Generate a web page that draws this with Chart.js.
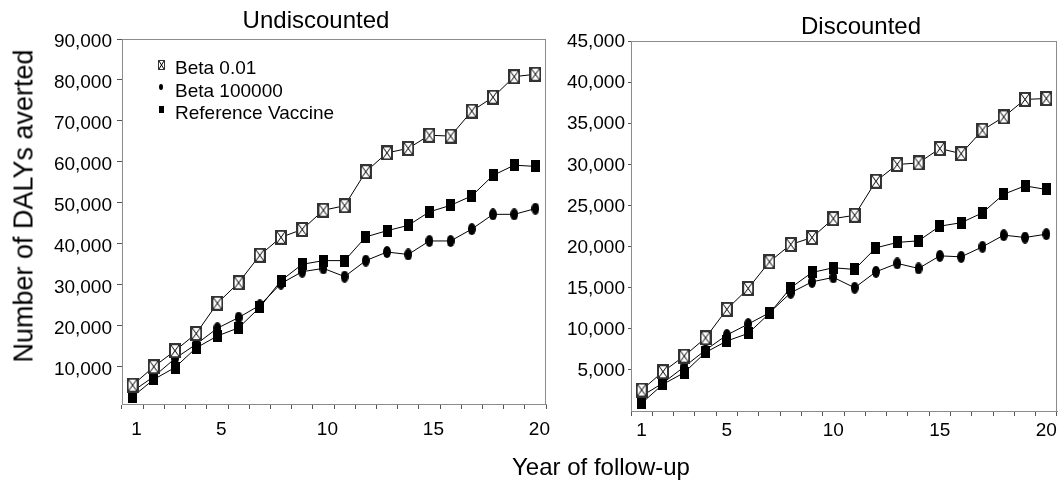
<!DOCTYPE html>
<html>
<head>
<meta charset="utf-8">
<title>DALYs averted</title>
<script src="https://cdn.jsdelivr.net/npm/chart.js@4.4.1/dist/chart.umd.min.js"></script>
<style>
  html, body { margin: 0; padding: 0; background: #fff; overflow: hidden; }
  body { position: relative; width: 1064px; height: 487px; font-family: "Liberation Sans", Arial, sans-serif; color: #000; }
  canvas { position: absolute; top: 0; }
  #undisc { left: 0; }
  #disc { left: 560px; }
  .txt { position: absolute; white-space: nowrap; line-height: 1; transform: translateX(-50%); }
  #title-left { left: 316px; top: 8px; font-size: 24px; }
  #title-right { left: 861px; top: 14px; font-size: 24px; }
  #x-title { left: 601px; top: 455px; font-size: 24px; }
  #y-title { left: 24px; top: 206px; font-size: 27px; transform: translate(-50%, -50%) rotate(-90deg); }
</style>
</head>
<body>
<canvas id="undisc" width="560" height="487"></canvas>
<canvas id="disc" width="504" height="487"></canvas>
<div class="txt" id="title-left">Undiscounted</div>
<div class="txt" id="title-right">Discounted</div>
<div class="txt" id="x-title">Year of follow-up</div>
<div class="txt" id="y-title">Number of DALYs averted</div>
<script>
// years of follow-up (categories) and the ones that get a label
const years = ["1","2","3","4","5","6","7","8","9","10","11","12","13","14","15","16","17","18","19","20"];
const labelledYears = ["1","5","10","15","20"];

const seriesNames = ["Beta 0.01", "Beta 100000", "Reference Vaccine"];

// undiscounted DALYs averted
const undiscBeta001 = [5500, 10000, 13900, 18100, 25500, 30500, 37200, 41600, 43500, 48200,
  49300, 57600, 62200, 63300, 66500, 66300, 72400, 75800, 80800, 81400];
const undiscBeta100000 = [4000, 7600, 12000, 15500, 19400, 22000, 25000, 30300, 33200, 34000,
  32000, 35900, 38000, 37400, 40700, 40700, 43600, 47200, 47200, 48600];
const undiscReference = [2700, 6900, 9800, 14600, 17500, 19500, 24500, 31000, 35000, 35900,
  35900, 41700, 43200, 44500, 47800, 49400, 51700, 56700, 59200, 58900];

// discounted DALYs averted
const discBeta001 = [2550, 4780, 6680, 8900, 12360, 14900, 18150, 20250, 21100, 23400,
  23800, 27950, 29980, 30170, 31920, 31300, 34150, 35770, 37900, 38000];
const discBeta100000 = [1820, 3400, 5380, 7410, 9240, 10570, 11950, 14380, 15710, 16250,
  14990, 16930, 17950, 17340, 18870, 18750, 19970, 21390, 21100, 21510];
const discReference = [940, 3250, 4660, 7130, 8510, 9440, 11870, 14990, 16850, 17420,
  17220, 19850, 20500, 20700, 22480, 22900, 24100, 26370, 27380, 26940];

const undiscTicks = [10000, 20000, 30000, 40000, 50000, 60000, 70000, 80000, 90000];
const discTicks = [5000, 10000, 15000, 20000, 25000, 30000, 35000, 40000, 45000];

const FONT = '"Liberation Sans", Arial, sans-serif';
Chart.defaults.font.family = FONT;
Chart.defaults.color = "#000";

// marker pictures
function crossBox(w, h, lw) {
  const c = document.createElement("canvas");
  c.width = w; c.height = h;
  const g = c.getContext("2d");
  g.fillStyle = "#fff";
  g.fillRect(0, 0, w, h);
  g.strokeStyle = "#333";
  g.lineWidth = lw;
  g.strokeRect(lw / 2, lw / 2, w - lw, h - lw);
  g.strokeStyle = "#000";
  g.lineWidth = 1;
  g.beginPath();
  g.moveTo(lw, lw); g.lineTo(w - lw, h - lw);
  g.moveTo(w - lw, lw); g.lineTo(lw, h - lw);
  g.stroke();
  return c;
}
function dot(w, h) {
  const c = document.createElement("canvas");
  c.width = w; c.height = h;
  const g = c.getContext("2d");
  g.fillStyle = "#000";
  g.beginPath();
  g.ellipse(w / 2, h / 2, w / 2, h / 2, 0, 0, Math.PI * 2);
  g.fill();
  return c;
}
function block(w, h) {
  const c = document.createElement("canvas");
  c.width = w; c.height = h;
  const g = c.getContext("2d");
  g.fillStyle = "#000";
  g.fillRect(0, 0, w, h);
  return c;
}

const markers = [crossBox(12, 15, 2), dot(8, 12), block(9, 12)];
const legendMarkers = [crossBox(7, 10, 1), dot(4, 6), block(5, 7)];

// gray frame round the plot area
const framePlugin = {
  id: "frame",
  afterDraw(chart) {
    const a = chart.chartArea, ctx = chart.ctx;
    ctx.save();
    ctx.strokeStyle = "#8c8c8c";
    ctx.lineWidth = 1;
    ctx.strokeRect(Math.round(a.left) + 0.5, Math.round(a.top) + 0.5,
      Math.round(a.right - a.left) - 1, Math.round(a.bottom - a.top));
    ctx.restore();
  }
};

// legend inside the plot, top left
const insideLegend = {
  id: "insideLegend",
  afterDraw(chart) {
    const a = chart.chartArea, ctx = chart.ctx;
    ctx.save();
    ctx.font = "19px " + FONT;
    ctx.fillStyle = "#000";
    ctx.textAlign = "left";
    ctx.textBaseline = "middle";
    chart.data.datasets.forEach((ds, i) => {
      const y = a.top + 30 + i * 22.4;
      const m = legendMarkers[i];
      ctx.drawImage(m, Math.round(a.left + 39 - m.width / 2), Math.round(y - 4.5 - m.height / 2));
      ctx.fillText(ds.label, a.left + 53, y);
    });
    ctx.restore();
  }
};

function datasets(a, b, c) {
  return [a, b, c].map((vals, i) => ({
    label: seriesNames[i],
    data: vals,
    borderColor: "#000",
    borderWidth: 1,
    backgroundColor: "#000",
    pointStyle: markers[i],
    pointRadius: 6,
    tension: 0
  }));
}

function makeChart(id, data, yMin, yMax, yTicks, cfg) {
  return new Chart(document.getElementById(id), {
    type: "line",
    data: { labels: years, datasets: data },
    options: {
      responsive: false,
      devicePixelRatio: 1,
      animation: false,
      events: [],
      layout: { padding: cfg.padding },
      plugins: { legend: { display: false }, title: { display: false }, tooltip: { enabled: false } },
      scales: {
        x: {
          type: "category",
          offset: true,
          grid: { offset: true, drawOnChartArea: false, drawTicks: true, tickLength: 5, color: "#555" },
          border: { color: "#8c8c8c", width: 1 },
          ticks: {
            autoSkip: false, maxRotation: 0, minRotation: 0,
            padding: cfg.xPad, labelOffset: cfg.xLabelOffset,
            font: { size: 19 }, color: "#000",
            callback: (v, i) => labelledYears.includes(years[i]) ? years[i] : ""
          },
          afterFit: (s) => { s.height = cfg.xHeight; }
        },
        y: {
          min: yMin, max: yMax,
          afterBuildTicks: (s) => { s.ticks = yTicks.map((v) => ({ value: v })); },
          grid: { drawOnChartArea: false, drawTicks: true, tickLength: cfg.yTick, color: "#555" },
          border: { color: "#8c8c8c", width: 1 },
          ticks: {
            padding: cfg.yPad, labelOffset: cfg.yLabelOffset,
            font: { size: 19 }, color: "#000",
            callback: (v) => Number(v).toLocaleString("en-US")
          },
          afterFit: (s) => { s.width = cfg.yWidth; }
        }
      }
    },
    plugins: cfg.legend ? [framePlugin, insideLegend] : [framePlugin]
  });
}

makeChart("undisc", datasets(undiscBeta001, undiscBeta100000, undiscReference), 900, 90000, undiscTicks, {
  padding: { left: 0, right: 14, top: 39, bottom: 0 },
  xHeight: 83, xPad: 9, xLabelOffset: 4,
  yWidth: 122, yTick: 5, yPad: 5, yLabelOffset: 3,
  legend: true
});

makeChart("disc", datasets(discBeta001, discBeta100000, discReference), 0, 45000, discTicks, {
  padding: { left: 0, right: 1, top: 41, bottom: 0 },
  xHeight: 76, xPad: 3, xLabelOffset: 0,
  yWidth: 71, yTick: 3, yPad: 3, yLabelOffset: 1,
  legend: false
});
</script>
</body>
</html>
